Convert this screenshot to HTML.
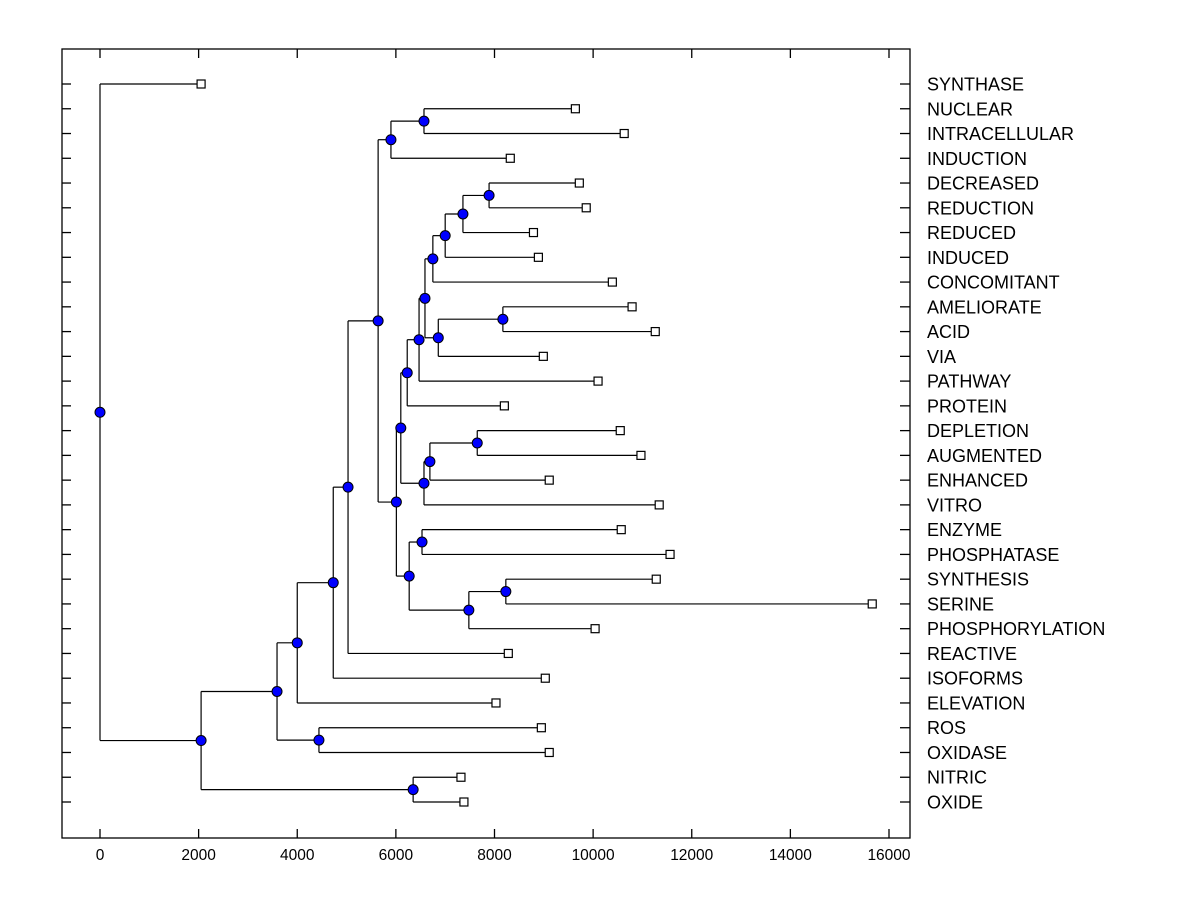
<!DOCTYPE html>
<html><head><meta charset="utf-8"><style>
html,body{margin:0;padding:0;background:#fff;}
svg{display:block;font-family:"Liberation Sans",Arial,sans-serif;}
</style></head><body>
<svg id="chart" width="1200" height="900" xmlns="http://www.w3.org/2000/svg"></svg>
<script>
const leafNames = ["SYNTHASE","NUCLEAR","INTRACELLULAR","INDUCTION","DECREASED","REDUCTION","REDUCED","INDUCED","CONCOMITANT","AMELIORATE","ACID","VIA","PATHWAY","PROTEIN","DEPLETION","AUGMENTED","ENHANCED","VITRO","ENZYME","PHOSPHATASE","SYNTHESIS","SERINE","PHOSPHORYLATION","REACTIVE","ISOFORMS","ELEVATION","ROS","OXIDASE","NITRIC","OXIDE"];
const leafValues = [2050,9640,10630,8320,9720,9860,8790,8890,10390,10790,11260,8990,10100,8200,10550,10970,9110,11340,10570,11560,11280,15660,10040,8280,9030,8030,8950,9110,7320,7380];
const nodeIds     = ["root","A","C","E","D","F","G","H","I","K","J","L","N","Q","R","S","U","T","V","W","X","P","Y","Z","M","AA","AB","AC","AD"];
const nodeHeights = [0,2050,3590,4440,4000,4730,5030,5640,5900,6570,6010,6100,6230,6470,6590,6860,8170,6750,7000,7360,7890,6570,6690,7650,6270,6530,7480,8230,6350];
const nodeChildren = [
 [0,"A"],["C","AD"],["D","E"],[26,27],["F",25],["G",24],["H",23],["I","J"],["K",3],[1,2],
 ["L","M"],["N","P"],["Q",13],["R",12],["T","S"],["U",11],[9,10],["V",8],["W",7],["X",6],[4,5],
 ["Y",17],["Z",16],[14,15],["AA","AB"],[18,19],["AC",22],[20,21],[28,29]
];
const xTicks = [0,2000,4000,6000,8000,10000,12000,14000,16000];

const svg = document.getElementById('chart');
const NS = 'http://www.w3.org/2000/svg';
const L=62,R=910,T=49,B=838;
const xScale = v => 100 + v*(889-100)/16000;
const yRow = i => 84 + i*(802-84)/29;

function mk(tag, attrs){const e=document.createElementNS(NS,tag);for(const k in attrs)e.setAttribute(k,attrs[k]);svg.appendChild(e);return e;}

const frame = mk('rect',{x:L,y:T,width:R-L,height:B-T,fill:'none',stroke:'#000','stroke-width':1.3});



xTicks.forEach(t=>{
  const x=xScale(t);
  const tb=mk('line',{x1:x,x2:x,y1:B,y2:B-9,stroke:'#000','stroke-width':1.3});
  
  
  const tt=mk('line',{x1:x,x2:x,y1:T,y2:T+9,stroke:'#000','stroke-width':1.3});
  
  
  const lb=mk('text',{x:x,y:860,'text-anchor':'middle','font-size':15.5,fill:'#000'});
  lb.textContent=t;
  
  
});

leafNames.forEach((n,i)=>{
  const y=yRow(i);
  const a=mk('line',{x1:L,x2:L+9,y1:y,y2:y,stroke:'#000','stroke-width':1.3});
  
  
  const b=mk('line',{x1:R-10,x2:R,y1:y,y2:y,stroke:'#000','stroke-width':1.3});
  
  
  const t=mk('text',{x:927,y:y+6.5,'font-size':18,fill:'#000'});
  t.textContent=n;
  
  
});

const dots=[], boxes=[];
function childPos(c){
  if(typeof c==='number') return {x:xScale(leafValues[c]),y:yRow(c)};
  return nodePos(c);
}
function nodePos(id){
  const k=nodeIds.indexOf(id);
  const ch=nodeChildren[k].map(childPos);
  const y=ch.reduce((s,p)=>s+p.y,0)/ch.length;
  return {x:xScale(nodeHeights[k]),y:y};
}
function draw(id){
  const k=nodeIds.indexOf(id);
  const x=xScale(nodeHeights[k]);
  const ch=nodeChildren[k].map(childPos);
  const ys=ch.map(p=>p.y);
  const v=mk('line',{x1:x,x2:x,y1:Math.min(...ys),y2:Math.max(...ys),stroke:'#000','stroke-width':1.2});
  
  
  nodeChildren[k].forEach((c,j)=>{
    const p=ch[j];
    const h=mk('line',{x1:x,x2:p.x,y1:p.y,y2:p.y,stroke:'#000','stroke-width':1.2});
    
    
    if(typeof c==='number') boxes.push(p); else draw(c);
  });
  dots.push({x:x,y:(Math.min(...ys)+Math.max(...ys))/2});
}
draw('root');
boxes.forEach(p=>{
  const r=mk('rect',{x:p.x-4,y:p.y-4,width:8,height:8,fill:'#fff',stroke:'#000','stroke-width':1.2});
  
  
});
dots.forEach(p=>{
  const c=mk('circle',{cx:p.x,cy:p.y,r:5,fill:'#0000ff',stroke:'#000','stroke-width':1});
  
  
});
</script>
</body></html>
